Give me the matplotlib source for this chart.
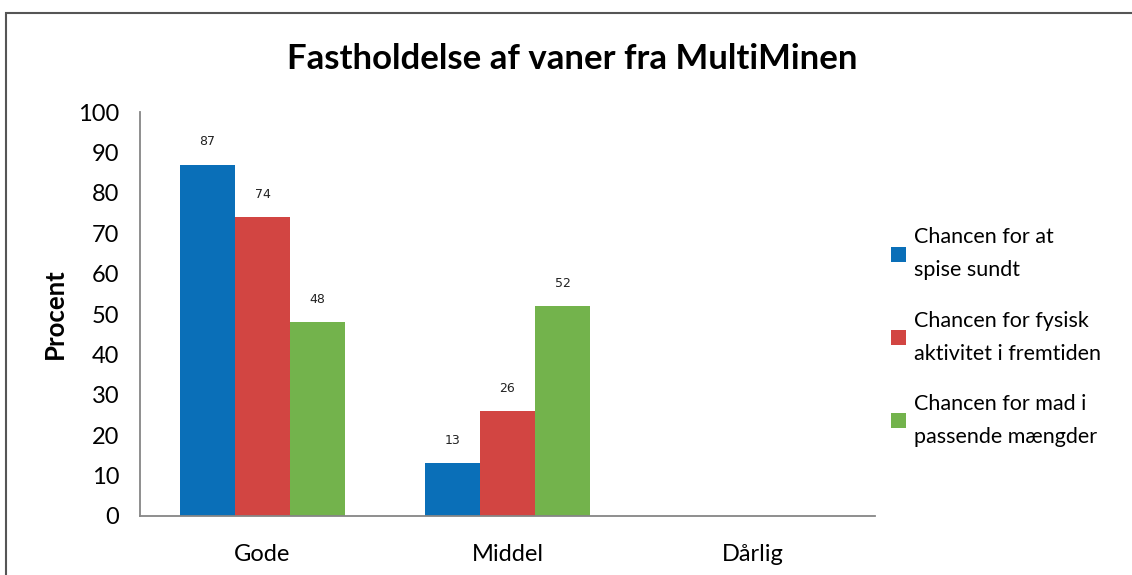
import matplotlib.pyplot as plt
import numpy as np
from matplotlib.patches import Rectangle

categories = ['Gode', 'Middel', 'Dårlig']
series_names = ['Chancen for at\nspise sundt',
                'Chancen for fysisk\naktivitet i fremtiden',
                'Chancen for mad i\npassende mængder']
spise = [87, 13, 0]
fysisk = [74, 26, 0]
mad = [48, 52, 0]
colors = ['#0A6FB8', '#D24542', '#73B34C']

plt.rcParams['font.family'] = ['Lato', 'DejaVu Sans']

W, H = 1132, 575
fig = plt.figure(figsize=(W / 100, H / 100), dpi=100)
ax = fig.add_axes([140 / W, 1 - 516 / H, 735 / W, 404 / H])

# frame around the chart (only top and left edges are visible in the crop)
fig.patches.append(Rectangle((6 / W, -0.1), 1.2, 1 - 13 / H + 0.1, transform=fig.transFigure,
                             fill=False, edgecolor='#555555', linewidth=1.5))

x = np.arange(len(categories))
width = 0.225
for i, (vals, name) in enumerate(zip([spise, fysisk, mad], series_names)):
    bars = ax.bar(x + (i - 1) * width, vals, width, color=colors[i], label=name)
    for b, v in zip(bars, vals):
        if v > 0:
            ax.text(b.get_x() + b.get_width() / 2, v + 4, str(v), ha='center', va='bottom',
                    fontsize=9, family='DejaVu Sans', color='#222222')

ax.set_xlim(-0.5, 2.5)
ax.set_ylim(0, 100)
ax.set_yticks(range(0, 101, 10))
ax.set_xticks(x)
ax.set_xticklabels(categories, fontsize=17)
ax.tick_params(axis='y', labelsize=17, length=0, pad=15)
ax.tick_params(axis='x', length=0, pad=20)
for s in ['top', 'right']:
    ax.spines[s].set_visible(False)
for s in ['left', 'bottom']:
    ax.spines[s].set_color('#868686')
    ax.spines[s].set_linewidth(1.3)

ax.set_ylabel('Procent', fontsize=18.5, fontweight='bold', labelpad=8)
fig.text(572 / W, 1 - 59 / H, 'Fastholdelse af vaner fra MultiMinen', ha='center', va='center',
         fontsize=25, fontweight='bold')

leg = ax.legend(loc='upper left', bbox_to_anchor=(872 / W, 1 - 208 / H), bbox_transform=fig.transFigure,
                frameon=False, fontsize=15.5, handlelength=0.7, handleheight=0.7, handletextpad=0.35,
                labelspacing=1.4)
for t in leg.get_texts():
    t.set_linespacing(1.82)

fig.savefig('out.png', dpi=100)
